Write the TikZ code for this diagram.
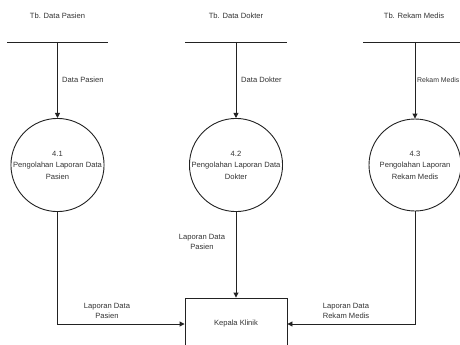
\documentclass[tikz,border=0pt]{standalone}
\usepackage{fontspec}
\setmainfont{Liberation Sans}
\usetikzlibrary{arrows.meta}
\definecolor{txt}{HTML}{333333}
\definecolor{ln}{HTML}{222222}
\begin{document}
\begin{tikzpicture}[x=1pt,y=-1pt,
  lbl/.style={font=\fontsize{7.6}{10.5}\selectfont, text=txt, inner sep=0pt, align=center},
  proc/.style={circle, draw=ln, line width=0.9pt, minimum size=92pt, inner sep=0pt, align=center, font=\fontsize{7.6}{11.5}\selectfont, text=txt},
  ent/.style={rectangle, draw=ln, line width=0.9pt, minimum width=102pt, minimum height=52pt, font=\fontsize{7.6}{10.5}\selectfont, text=txt},
  storeline/.style={draw=ln, line width=0.9pt},
  flow/.style={draw=ln, line width=0.9pt, -{Triangle[length=5pt,width=5pt]}}]
\useasboundingbox (0,0) rectangle (460,345);
\begin{scope}
\clip (0,0) rectangle (460,345);
% stores
\node[lbl] (s1) at (57.5,16) {Tb. Data Pasien};
\node[lbl] (s2) at (236,16) {Tb. Data Dokter};
\node[lbl] (s3) at (414,16) {Tb. Rekam Medis};
\coordinate (l1a) at (7,42); \coordinate (l1b) at (108,42); \coordinate (t1) at (57.5,42);
\coordinate (l2a) at (185,42); \coordinate (l2b) at (287,42); \coordinate (t2) at (236,42);
\coordinate (l3a) at (363,42); \coordinate (l3b) at (465,42); \coordinate (t3) at (415,42);
\draw[storeline] (l1a) -- (l1b);
\draw[storeline] (l2a) -- (l2b);
\draw[storeline] (l3a) -- (l3b);
% processes
\node[proc] (c1) at (57.5,165) {4.1\\Pengolahan Laporan Data\\Pasien};
\node[proc] (c2) at (236,165) {4.2\\Pengolahan Laporan Data\\Dokter};
\node[proc] (c3) at (415,165) {4.3\\Pengolahan Laporan\\Rekam Medis};
% entity
\node[ent] (k) at (236,324) {Kepala Klinik};
% flows in
\draw[flow] (t1) -- (c1.north);
\draw[flow] (t2) -- (c2.north);
\draw[flow] (t3) -- (c3.north);
\node[lbl, anchor=west] (f1) at (62,80) {Data Pasien};
\node[lbl, anchor=west] (f2) at (241,80) {Data Dokter};
\node[lbl, anchor=west, font=\fontsize{6.9}{9}\selectfont] (f3) at (417,80) {Rekam Medis};
% flows out
\draw[flow] (c1.south) |- (k.west);
\draw[flow] (c2.south) -- (k.north);
\draw[flow] (c3.south) |- (k.east);
\node[lbl] (o1) at (107,311) {Laporan Data\\Pasien};
\node[lbl] (o2) at (202,242) {Laporan Data\\Pasien};
\node[lbl] (o3) at (346,311) {Laporan Data\\Rekam Medis};
\end{scope}
\end{tikzpicture}
\end{document}
